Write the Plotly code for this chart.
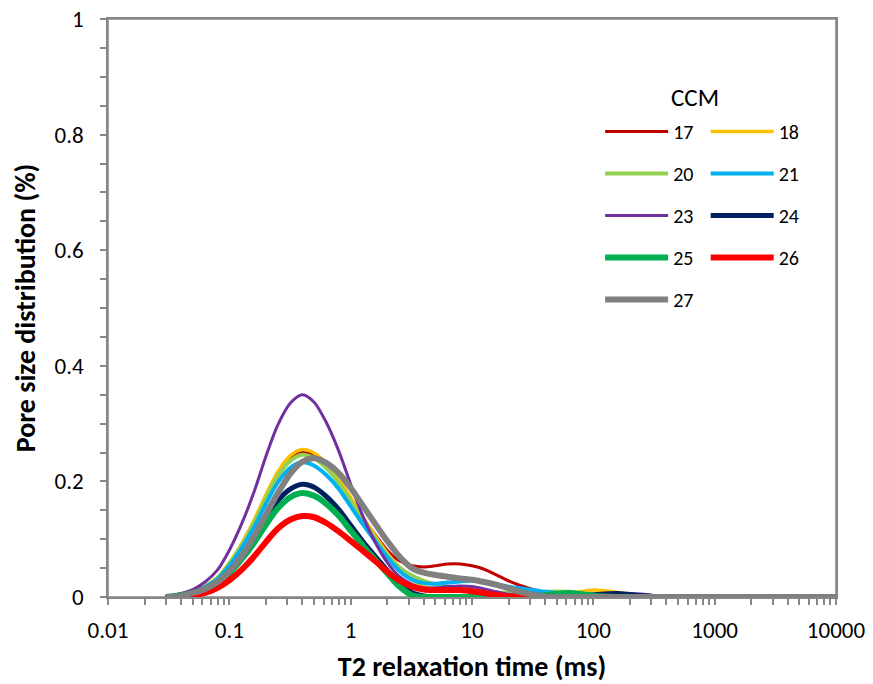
import plotly.graph_objects as go

t2_ms = [0.03, 0.04, 0.05, 0.063, 0.08, 0.1, 0.126, 0.16, 0.2, 0.25, 0.32, 0.4, 0.5, 0.63, 0.8,
         1.0, 1.26, 1.6, 2.0, 2.5, 3.2, 4.0, 5.0, 6.3, 8.0, 10, 12.6, 16, 20, 25, 32, 40, 63,
         100, 160, 250, 400, 1000, 10000]

ccm_17 = [0, 0.004, 0.009, 0.018, 0.033, 0.057, 0.089, 0.129, 0.172, 0.211, 0.240, 0.250, 0.245, 0.228, 0.202,
          0.171, 0.138, 0.107, 0.081, 0.063, 0.054, 0.052, 0.054, 0.057, 0.057, 0.054, 0.048, 0.038, 0.028, 0.020, 0.013, 0.008, 0.004,
          0.003, 0.003, 0.003, 0.001, 0, 0]
ccm_18 = [0, 0.004, 0.009, 0.019, 0.034, 0.059, 0.092, 0.133, 0.177, 0.216, 0.245, 0.255, 0.249, 0.231, 0.204,
          0.172, 0.138, 0.105, 0.076, 0.052, 0.030, 0.018, 0.014, 0.014, 0.014, 0.012, 0.010, 0.007, 0.005, 0.004, 0.003, 0.003, 0.006,
          0.012, 0.008, 0.002, 0, 0, 0]
ccm_20 = [0, 0.004, 0.009, 0.018, 0.033, 0.057, 0.089, 0.128, 0.170, 0.209, 0.236, 0.246, 0.240, 0.223, 0.197,
          0.166, 0.133, 0.101, 0.073, 0.052, 0.037, 0.028, 0.022, 0.018, 0.015, 0.012, 0.010, 0.008, 0.007, 0.007, 0.008, 0.009, 0.009,
          0.004, 0.001, 0, 0, 0, 0]
ccm_21 = [0, 0.004, 0.009, 0.017, 0.031, 0.054, 0.084, 0.121, 0.161, 0.198, 0.224, 0.233, 0.227, 0.211, 0.187,
          0.157, 0.126, 0.096, 0.069, 0.046, 0.030, 0.024, 0.023, 0.025, 0.027, 0.028, 0.026, 0.022, 0.018, 0.015, 0.012, 0.009, 0.005,
          0.003, 0.002, 0, 0, 0, 0]
ccm_23 = [0, 0.006, 0.013, 0.026, 0.047, 0.081, 0.126, 0.182, 0.243, 0.297, 0.336, 0.350, 0.337, 0.302, 0.252,
          0.195, 0.140, 0.094, 0.060, 0.036, 0.022, 0.016, 0.016, 0.018, 0.019, 0.018, 0.014, 0.009, 0.005, 0.003, 0.002, 0.001, 0.001,
          0.002, 0.005, 0.005, 0, 0, 0]
ccm_24 = [0, 0.003, 0.007, 0.014, 0.026, 0.045, 0.070, 0.101, 0.135, 0.166, 0.187, 0.195, 0.190, 0.174, 0.151,
          0.124, 0.096, 0.070, 0.046, 0.024, 0.008, 0.002, 0, 0, 0, 0, 0, 0, 0, 0, 0, 0, 0,
          0.004, 0.006, 0.002, 0, 0, 0]
ccm_25 = [0, 0.003, 0.007, 0.013, 0.024, 0.041, 0.065, 0.094, 0.125, 0.153, 0.173, 0.180, 0.175, 0.161, 0.140,
          0.115, 0.089, 0.064, 0.041, 0.019, 0.003, 0, 0, 0, 0, 0, 0, 0, 0, 0, 0.001, 0.003, 0.007,
          0.002, 0, 0, 0, 0, 0]
ccm_26 = [0, 0.001, 0.003, 0.007, 0.016, 0.029, 0.047, 0.070, 0.095, 0.118, 0.134, 0.140, 0.138, 0.128, 0.113,
          0.097, 0.080, 0.062, 0.044, 0.029, 0.018, 0.013, 0.012, 0.012, 0.012, 0.010, 0.007, 0.003, 0.001, 0, 0, 0, 0,
          0, 0, 0, 0, 0, 0]
ccm_27 = [0, 0.002, 0.007, 0.014, 0.026, 0.044, 0.070, 0.105, 0.142, 0.179, 0.214, 0.234, 0.240, 0.232, 0.214,
          0.189, 0.158, 0.126, 0.097, 0.071, 0.050, 0.042, 0.038, 0.035, 0.032, 0.030, 0.026, 0.021, 0.015, 0.009, 0.004, 0.001, 0,
          0, 0, 0, 0, 0, 0]

names = ["17", "18", "20", "21", "23", "24", "25", "26", "27"]
series = [ccm_17, ccm_18, ccm_20, ccm_21, ccm_23, ccm_24, ccm_25, ccm_26, ccm_27]
colors = ["#C00000", "#FFC000", "#92D050", "#00B0F0", "#7030A0", "#002060", "#00B050", "#FF0000", "#808080"]
widths = [3, 3.5, 4, 4, 3, 5, 6, 6, 6]
legend_of = ["legend", "legend2", "legend", "legend2", "legend", "legend2", "legend", "legend2", "legend"]

x_tickvals = [0.01, 0.1, 1, 10, 100, 1000, 10000]
x_ticktext = ["0.01", "0.1", "1", "10", "100", "1000", "10000"]
y_tickvals = [0, 0.2, 0.4, 0.6, 0.8, 1.0]
y_ticktext = ["0", "0.2", "0.4", "0.6", "0.8", "1"]

FONT = "Carlito, Calibri, Lato, sans-serif"
AXIS_COL = "#868686"

fig = go.Figure()
for name, ys, col, w, lg in zip(names, series, colors, widths, legend_of):
    fig.add_trace(go.Scatter(
        x=t2_ms, y=ys, name=name, mode="lines",
        line=dict(color=col, width=w, shape="spline", smoothing=0.8),
        legend=lg, legendgroup=name,
    ))

minor_x = [m * 10.0 ** e for e in range(-2, 4) for m in range(2, 10)]

legend_common = dict(
    bgcolor="rgba(0,0,0,0)", borderwidth=0,
    font=dict(family=FONT, size=20, color="#000"),
    orientation="v", traceorder="grouped", tracegroupgap=13,
    itemwidth=63, xanchor="left", yanchor="top",
)

fig.update_layout(
    width=873, height=684,
    margin=dict(l=108, r=37, t=19, b=87, autoexpand=False),
    paper_bgcolor="white", plot_bgcolor="white",
    font=dict(family=FONT, size=20, color="#000"),
    showlegend=True,
    legend=dict(x=0.676, y=0.839, **legend_common),
    legend2=dict(x=0.821, y=0.839, **legend_common),
    annotations=[dict(text="CCM", xref="paper", yref="paper", x=0.806, y=0.865,
                      xanchor="center", yanchor="middle", showarrow=False,
                      font=dict(family=FONT, size=25, color="#000"))],
    shapes=[dict(type="rect", xref="paper", yref="paper", x0=0, x1=1, y0=0, y1=1,
                 line=dict(color=AXIS_COL, width=1.5), fillcolor="rgba(0,0,0,0)", layer="below")],
    xaxis=dict(
        type="log", range=[-2, 4], automargin=False,
        tickmode="array", tickvals=x_tickvals, ticktext=x_ticktext,
        ticks="outside", ticklen=6, tickcolor=AXIS_COL, tickwidth=1.5,
        ticklabelstandoff=6, ticklabeloverflow="allow",
        minor=dict(tickmode="array", tickvals=minor_x, ticks="outside", ticklen=6,
                   tickcolor=AXIS_COL, tickwidth=1.5, showgrid=False),
        showline=True, linecolor=AXIS_COL, linewidth=1.5, mirror=True,
        showgrid=False, zeroline=False,
        tickfont=dict(family=FONT, size=23, color="#000"),
        title=dict(text="<b>T2 relaxation time (ms)</b>", font=dict(family=FONT, size=28, color="#000"), standoff=14),
    ),
    yaxis=dict(
        range=[0, 1], automargin=False,
        tickmode="array", tickvals=y_tickvals, ticktext=y_ticktext,
        ticks="outside", ticklen=6, tickcolor=AXIS_COL, tickwidth=1.5,
        ticklabelstandoff=12, ticklabeloverflow="allow",
        minor=dict(dtick=0.05, ticks="outside", ticklen=6, tickcolor=AXIS_COL, tickwidth=1.5, showgrid=False),
        showline=True, linecolor=AXIS_COL, linewidth=1.5, mirror=True,
        showgrid=False, zeroline=False,
        tickfont=dict(family=FONT, size=23, color="#000"),
        title=dict(text="<b>Pore size distribution (%)</b>", font=dict(family=FONT, size=28, color="#000"), standoff=11),
    ),
)

fig.write_html("out.html", config={"displayModeBar": False},
               post_script="document.body.style.margin = '0';")
